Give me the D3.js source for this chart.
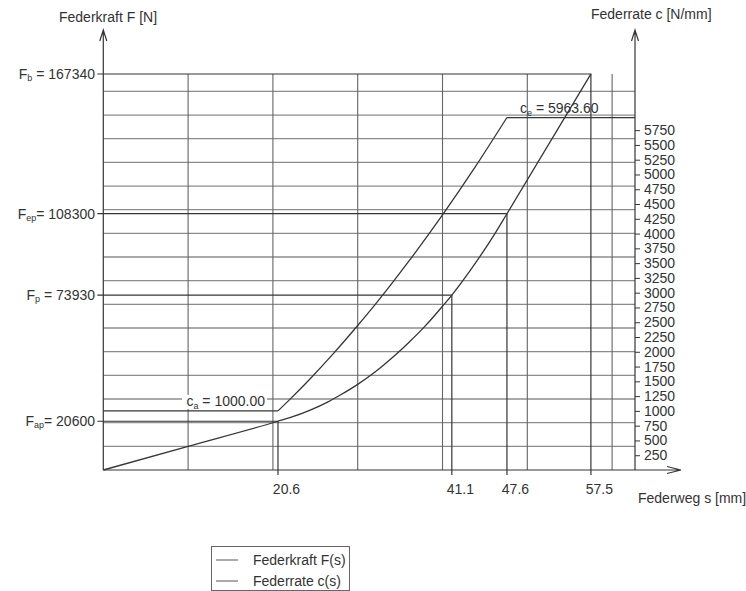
<!DOCTYPE html>
<html><head><meta charset="utf-8">
<script src="https://cdn.jsdelivr.net/npm/d3@7"></script>
<style>
body{margin:0;background:#fff}
svg text{font-family:"Liberation Sans",Arial,Helvetica,sans-serif;fill:#333}
</style>
</head><body>
<svg id="chart" width="746" height="591"></svg>
<script>
// ---- data ----
// Federkraft F(s)  [s in mm, F in N]
const sF = [0, 10, 20.6, 22.0, 24.4, 26.5, 28.0, 30.0, 32.0, 34.4, 36.0, 38.0, 40.0, 41.1, 43.4, 46.2, 47.6, 57.5];
const vF = [0, 10000, 20600, 22100, 25300, 28800, 31800, 36200, 41300, 48500, 53800, 61000, 69200, 73930, 85000, 100000, 108300, 167340];
// Federrate c(s)  [N/mm]
const sC = [0, 20.6, 22.0, 24.4, 27.1, 30.0, 32.0, 34.1, 36.1, 40.0, 43.8, 47.6, 62.7];
const vC = [1000, 1000, 1195, 1545, 1965, 2445, 2790, 3170, 3545, 4315, 5115, 5963.6, 5963.6];
// marked points
const markS = [20.6, 41.1, 47.6, 57.5];
const markF = [20600, 73930, 108300, 167340];
const markSub = ["ap", "p", "ep", "b"];
const markTail = ["= 20600", " = 73930", "= 108300", " = 167340"];
// axes / ticks
const cTicks = [250,500,750,1000,1250,1500,1750,2000,2250,2500,2750,3000,3250,3500,3750,4000,4250,4500,4750,5000,5250,5500,5750];
const gridS = [10, 20, 30, 40, 50, 60];
const gridF = [10000,20000,30000,40000,50000,60000,70000,80000,90000,100000,110000,120000,130000,140000,150000,160000];
const sMax = 62.7, cMax = 6700;
const legendLabels = ["Federkraft F(s)", "Federrate c(s)"];

// ---- scales ----
const x = d3.scaleLinear().domain([0, sMax]).range([103.3, 635]);
const yF = d3.scaleLinear().domain([0, 167340]).range([470, 74]);
const yC = d3.scaleLinear().domain([0, cMax]).range([470, 74]);

const svg = d3.select("#chart");
const ink = "#363636";

// grid
const g = svg.append("g");
g.selectAll(".hg").data(gridF).join("line")
  .attr("x1", x(0)).attr("x2", x(sMax))
  .attr("y1", d => yF(d)).attr("y2", d => yF(d))
  .attr("stroke", "#8c8c8c").attr("stroke-width", 1.3);
g.selectAll(".vg").data(gridS).join("line")
  .attr("x1", d => x(d)).attr("x2", d => x(d))
  .attr("y1", yF(167340)).attr("y2", yF(0))
  .attr("stroke", "#666").attr("stroke-width", 1.1);

// marker lines (horizontal from left axis, vertical down to s axis)
const marks = markS.map((s, i) => ({s, F: markF[i], sub: markSub[i], tail: markTail[i]}));
svg.append("g").selectAll("path").data(marks).join("path")
  .attr("d", d => `M${x(0)-6},${yF(d.F)}H${x(d.s)}V${yF(0)+5}`)
  .attr("fill", "none").attr("stroke", ink).attr("stroke-width", 1.2);

// curves
const lineF = d3.line().x((d, i) => x(sF[i])).y(d => yF(d)).curve(d3.curveMonotoneX);
svg.append("path").attr("d", lineF(vF))
  .attr("fill", "none").attr("stroke", ink).attr("stroke-width", 1.3);

const cPts = sC.map((s, i) => [s, vC[i]]);
const lineCsmooth = d3.line().x(d => x(d[0])).y(d => yC(d[1])).curve(d3.curveMonotoneX);
const lineClin = d3.line().x(d => x(d[0])).y(d => yC(d[1]));
const cG = svg.append("g").attr("fill", "none").attr("stroke", ink).attr("stroke-width", 1.3);
cG.append("path").attr("d", lineClin(cPts.slice(0, 2)));
cG.append("path").attr("d", lineCsmooth(cPts.slice(1, cPts.length - 1)));
cG.append("path").attr("d", lineClin(cPts.slice(cPts.length - 2)));

// axes lines with open arrows
const ax = svg.append("g").attr("fill", "none").attr("stroke", ink).attr("stroke-width", 1.2);
ax.append("path").attr("d", `M${x(0)},${yF(0)}V30M${x(0)-3.5},41L${x(0)},30L${x(0)+3.5},41`);
ax.append("path").attr("d", `M${x(sMax)},${yF(0)}V30M${x(sMax)-3.5},41L${x(sMax)},30L${x(sMax)+3.5},41`);
ax.append("path").attr("d", `M${x(0)},${yF(0)}H681M667,466.5L681,${yF(0)}L667,473.5`);

// right c axis
const rAxis = svg.append("g").attr("transform", `translate(${x(sMax)},0)`)
  .call(d3.axisRight(yC).tickValues(cTicks).tickSize(5).tickPadding(4).tickFormat(d3.format("d")));
rAxis.select(".domain").remove();
rAxis.selectAll("line").attr("stroke", ink);
rAxis.selectAll("text").attr("font-size", 14).attr("fill", "#333")
  .style("font-family", '"Liberation Sans",Arial,sans-serif');

// bottom s axis ticks
const bAxis = svg.append("g").attr("transform", `translate(0,${yF(0)})`)
  .call(d3.axisBottom(x).tickValues(markS).tickSize(0).tickPadding(14).tickFormat(d3.format(".1f")));
bAxis.select(".domain").remove();
bAxis.selectAll("line").remove();
bAxis.selectAll("text").attr("font-size", 14).attr("dx", 8).attr("fill", "#333")
  .style("font-family", '"Liberation Sans",Arial,sans-serif');

// left labels with subscripts
const lt = svg.append("g").selectAll("text").data(marks).join("text")
  .attr("x", 95).attr("y", d => yF(d.F) + 5).attr("text-anchor", "end").attr("font-size", 14);
lt.append("tspan").text("F");
lt.append("tspan").attr("font-size", 9).attr("dy", 2).text(d => d.sub);
lt.append("tspan").attr("dy", -2).text(d => d.tail);

// axis titles
svg.append("text").attr("x", 59).attr("y", 22).attr("font-size", 14).text("Federkraft F [N]");
svg.append("text").attr("x", 591).attr("y", 19).attr("font-size", 14).text("Federrate c [N/mm]");
svg.append("text").attr("x", 638).attr("y", 503).attr("font-size", 14).text("Federweg s [mm]");

// c annotations
const caY = yC(vC[0]) - 5;
svg.append("rect").attr("x", 182).attr("y", caY - 11).attr("width", 85).attr("height", 14).attr("fill", "#fff");
const ca = svg.append("text").attr("x", 265).attr("y", caY).attr("text-anchor", "end").attr("font-size", 14);
ca.append("tspan").text("c");
ca.append("tspan").attr("font-size", 9).attr("dy", 3).text("a");
ca.append("tspan").attr("dy", -3).text(" = " + d3.format(".2f")(vC[0]));
const ce = svg.append("text").attr("x", 520).attr("y", yC(vC[vC.length - 1]) - 5).attr("font-size", 14);
ce.append("tspan").text("c");
ce.append("tspan").attr("font-size", 9).attr("dy", 3).text("e");
ce.append("tspan").attr("dy", -3).text(" = " + d3.format(".2f")(vC[vC.length - 1]));

// legend
const lg = svg.append("g");
lg.append("rect").attr("x", 211.5).attr("y", 546.5).attr("width", 138).attr("height", 44)
  .attr("fill", "#fff").attr("stroke", "#666").attr("stroke-width", 1);
legendLabels.forEach((t, i) => {
  const yy = 560 + i * 21;
  lg.append("line").attr("x1", 216).attr("x2", 238).attr("y1", yy).attr("y2", yy)
    .attr("stroke", "#555").attr("stroke-width", 1);
  lg.append("text").attr("x", 253).attr("y", yy + 5).attr("font-size", 14).text(t);
});
</script>
</body></html>
